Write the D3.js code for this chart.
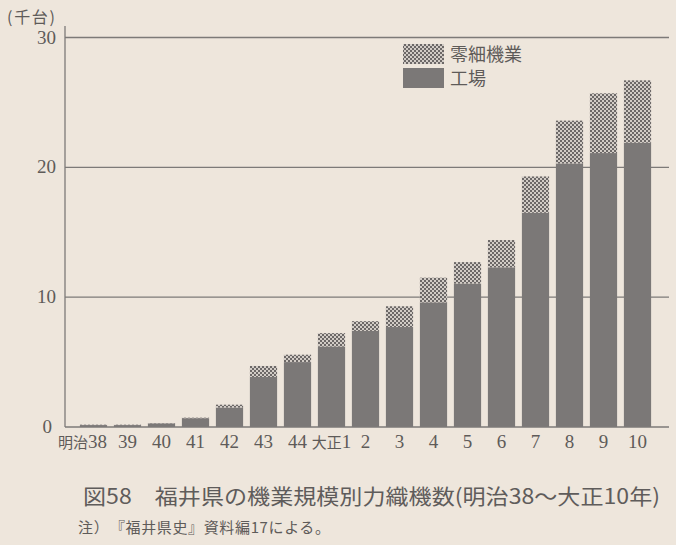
<!DOCTYPE html>
<html lang="ja">
<head>
<meta charset="UTF-8">
<title>図58</title>
<script src="https://cdn.jsdelivr.net/npm/d3@7"></script>
<style>
  body { margin:0; background:#eee6dc; }
  #grafica { width:676px; height:545px; }
  .serif { font-family:"Liberation Serif","DejaVu Serif",serif; }
  .jp { font-family:"Noto Sans CJK JP","Noto Sans",sans-serif; }
</style>
</head>
<body>
<div id="grafica"></div>
<script>
// datos (千台)
var anos = ['明治38','39','40','41','42','43','44','大正1','2','3','4','5','6','7','8','9','10']
var fabrica = [0.15,0.15,0.28,0.68,1.5,3.85,5.0,6.2,7.4,7.7,9.6,11.05,12.3,16.5,20.3,21.1,21.9]
var pequeno = [0.03,0.03,0.02,0.04,0.22,0.85,0.57,1.03,0.75,1.6,1.9,1.65,2.1,2.8,3.3,4.6,4.8]
var yTicks = [0,10,20,30]
var series = ['工場','零細機業']

var ancho_total = 676, alto_total = 545
var svg = d3.select('#grafica').append('svg')
    .attr('width', ancho_total)
    .attr('height', alto_total)

svg.append('rect').attr('width', ancho_total).attr('height', alto_total).attr('fill', '#eee6dc')

// patron de cuadritos
var pat = svg.append('defs').append('pattern')
    .attr('id', 'cuadros')
    .attr('patternUnits', 'userSpaceOnUse')
    .attr('width', 4).attr('height', 4)
pat.append('rect').attr('width', 4).attr('height', 4).attr('fill', '#d2ccc6')
pat.append('rect').attr('width', 2).attr('height', 2).attr('fill', '#6c6867')
pat.append('rect').attr('x', 2).attr('y', 2).attr('width', 2).attr('height', 2).attr('fill', '#6c6867')

var x = d3.scaleBand()
    .domain(anos)
    .range([76.5, 654.5])
    .paddingInner(0.2)
    .paddingOuter(0.1)

var y = d3.scaleLinear()
    .domain([0, 30])
    .range([427, 37.5])

var c = d3.scaleOrdinal()
    .domain(series)
    .range(['#7b7877', 'url(#cuadros)'])

var gris = '#5e5b59'

// lineas de cuadricula
svg.append('g').selectAll('line')
    .data(yTicks.filter(d => d > 0))
    .join('line')
    .attr('x1', 65).attr('x2', 669)
    .attr('y1', d => y(d)).attr('y2', d => y(d))
    .attr('stroke', '#7d7a78')
    .attr('stroke-width', 1.3)

// barras apiladas
var tabla = anos.map((a, i) => ({ano: a, '工場': fabrica[i], '零細機業': pequeno[i]}))
var stack = d3.stack().keys(series)(tabla)

svg.append('g').selectAll('g')
    .data(stack)
    .join('g')
    .attr('fill', d => c(d.key))
    .selectAll('rect')
    .data(d => d)
    .join('rect')
    .attr('x', d => x(d.data.ano))
    .attr('width', x.bandwidth())
    .attr('y', d => y(d[1]))
    .attr('height', d => y(d[0]) - y(d[1]))

// ejes
svg.append('line')
    .attr('x1', 65).attr('x2', 65)
    .attr('y1', 26).attr('y2', y(0))
    .attr('stroke', '#7d7a78').attr('stroke-width', 1.3)
svg.append('line')
    .attr('x1', 65).attr('x2', 669)
    .attr('y1', y(0)).attr('y2', y(0))
    .attr('stroke', '#7d7a78').attr('stroke-width', 1.3)

svg.append('g').selectAll('text')
    .data(yTicks)
    .join('text')
    .attr('class', 'serif')
    .attr('x', d => d == 0 ? 52 : 56)
    .attr('y', d => y(d) + 6)
    .attr('text-anchor', 'end')
    .attr('font-size', 19)
    .attr('fill', gris)
    .text(d => d)

svg.append('text')
    .attr('class', 'jp')
    .attr('x', 7).attr('y', 23)
    .attr('font-size', 16)
    .attr('fill', gris)
    .attr('textLength', 48)
    .text('(千台)')

// etiquetas del eje x (prefijo de era + numero)
var lab = svg.append('g').selectAll('text')
    .data(anos)
    .join('text')
    .attr('x', (d, i) => i == 0 ? x(d) + x.bandwidth() : x(d) + x.bandwidth() / 2)
    .attr('y', 448)
    .attr('text-anchor', (d, i) => i == 0 ? 'end' : 'middle')
    .attr('fill', gris)
lab.append('tspan')
    .attr('class', 'jp')
    .attr('font-size', 15)
    .text(d => d.match(/^\D*/)[0])
lab.append('tspan')
    .attr('class', 'serif')
    .attr('font-size', 19)
    .text(d => d.match(/\d+$/)[0])

// leyenda
var ley = svg.append('g')
ley.selectAll('rect')
    .data(series.slice().reverse())
    .join('rect')
    .attr('x', 403).attr('y', (d, i) => 44 + i * 24)
    .attr('width', 41).attr('height', 20)
    .attr('fill', d => c(d))
ley.selectAll('text')
    .data(series.slice().reverse())
    .join('text')
    .attr('class', 'jp')
    .attr('x', 450).attr('y', (d, i) => 61 + i * 24)
    .attr('font-size', 18)
    .attr('fill', gris)
    .text(d => d)

// titulo y nota
svg.append('text')
    .attr('class', 'jp')
    .attr('x', 83).attr('y', 504)
    .attr('font-size', 21)
    .attr('fill', '#5f5c5b')
    .attr('textLength', 577)
    .attr('lengthAdjust', 'spacingAndGlyphs')
    .text('図58　福井県の機業規模別力織機数(明治38〜大正10年)')

svg.append('text')
    .attr('class', 'jp')
    .attr('x', 78).attr('y', 533)
    .attr('font-size', 15)
    .attr('fill', gris)
    .attr('textLength', 252)
    .text('注）　『福井県史』資料編17による。')
</script>
</body>
</html>
